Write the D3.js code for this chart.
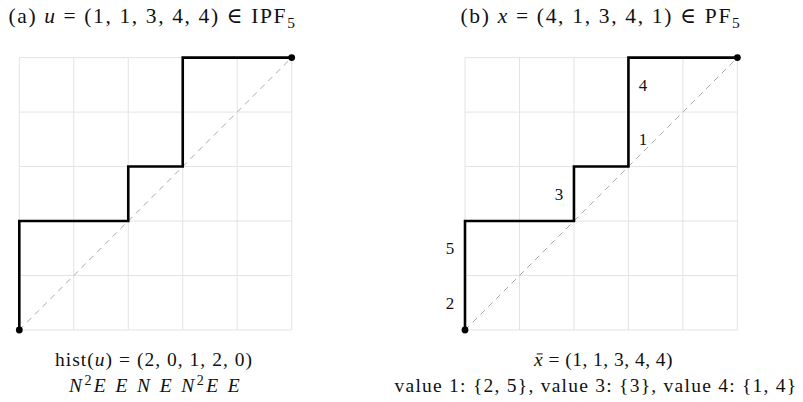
<!DOCTYPE html>
<html><head><meta charset="utf-8">
<script src="https://cdn.jsdelivr.net/npm/d3@7"></script>
<style>
html,body{margin:0;padding:0;background:#fff;}
svg text{font-family:"Liberation Serif","DejaVu Serif",serif;fill:#111;}
</style></head>
<body><svg id="c" width="803" height="402"></svg>
<script>
const n = 5;
const uValues = [1, 1, 3, 4, 4];      // increasing parking function (a)
const xValues = [4, 1, 3, 4, 1];      // parking function (b)
const panelNames = ["IPF", "PF"];
const panelLetters = ["(a)", "(b)"];
const varNames = ["u", "x"];

const svg = d3.select("#c");
const FS_T = 21.5, FS_B = 19.5, FS_L = 17;

function hist(vals){ return d3.range(1, n+1).map(c => vals.filter(v => v === c).length); }
function pathPoints(vals){
  const h = hist(vals); const pts = [[0,0]]; let x=0,y=0;
  h.forEach(k => { for(let i=0;i<k;i++){ y++; pts.push([x,y]); } x++; pts.push([x,y]); });
  return pts;
}
// spread a text so that its ink spans width w, centred on cx
function fit(sel, cx, w){
  const node = sel.node();
  sel.attr("text-anchor","start").attr("x", 0).attr("letter-spacing", 0);
  const chars = node.getNumberOfChars();
  let ls = 0;
  for(let it=0; it<3; it++){
    const bb = node.getBBox();
    ls += (w - bb.width) / Math.max(1, chars - 1);
    sel.attr("letter-spacing", ls);
  }
  const bb = node.getBBox();
  sel.attr("x", (cx - w/2) - bb.x);
}

function panel(g, vals, xr, withLabels){
  const xs = d3.scaleLinear().domain([0,n]).range(xr);
  const ys = d3.scaleLinear().domain([0,n]).range([330, 57.6]);
  const ticks = d3.range(0, n+1);
  g.append("g").selectAll("line").data(ticks).join("line")
    .attr("x1", d=>xs(d)).attr("x2", d=>xs(d)).attr("y1", ys(0)).attr("y2", ys(n))
    .attr("stroke", "#e3e3e3").attr("stroke-width", 1);
  g.append("g").selectAll("line").data(ticks).join("line")
    .attr("y1", d=>ys(d)).attr("y2", d=>ys(d)).attr("x1", xs(0)).attr("x2", xs(n))
    .attr("stroke", "#e3e3e3").attr("stroke-width", 1);
  g.append("line").attr("x1", xs(0)).attr("y1", ys(0)).attr("x2", xs(n)).attr("y2", ys(n))
    .attr("stroke", "#aaa").attr("stroke-width", 1).attr("stroke-dasharray", "6,5");
  const pts = pathPoints(vals);
  g.append("path").attr("d", d3.line().x(d=>xs(d[0])).y(d=>ys(d[1]))(pts))
    .attr("fill","none").attr("stroke","#000").attr("stroke-width",2.6).attr("stroke-linejoin","miter");
  g.selectAll("circle").data([[0,0],[n,n]]).join("circle")
    .attr("cx", d=>xs(d[0])).attr("cy", d=>ys(d[1])).attr("r", 3.4).attr("fill","#000");
  if(withLabels){
    const labs = []; let y = 0;
    for(let c=1;c<=n;c++){
      const cars = d3.range(1,n+1).filter(i => vals[i-1] === c);
      cars.forEach(car => { labs.push({car, col:c-1, row:y}); y++; });
    }
    g.selectAll("text.lab").data(labs).join("text").attr("class","lab")
      .attr("x", d => xs(d.col) + (d.col >= 3 ? 14.5 : -15))
      .attr("y", d => ys(d.row + 0.5) + 6)
      .attr("text-anchor","middle").attr("font-size", FS_L).text(d=>d.car);
  }
  return xs;
}

function title(g, cx, w, letter, v, vals, name){
  const t = g.append("text").attr("y", 23).attr("font-size", FS_T);
  t.append("tspan").text(letter + " ");
  t.append("tspan").attr("font-style","italic").text(v);
  t.append("tspan").text(" = (" + vals.join(", ") + ") ∈ " + name);
  t.append("tspan").attr("font-size", FS_T*0.72).attr("dy", 4.5).text(n);
  fit(t, cx, w);
}

const gA = svg.append("g"), gB = svg.append("g");
panel(gA, uValues, [19.3, 291.7], false);
panel(gB, xValues, [465, 737.4], true);
title(gA, 152.5, 288, panelLetters[0], varNames[0], uValues, panelNames[0]);
title(gB, 601, 281, panelLetters[1], varNames[1], xValues, panelNames[1]);

// bottom captions (a)
const h = hist(uValues);
const t1 = gA.append("text").attr("y", 366).attr("font-size", FS_B);
t1.append("tspan").text("hist(");
t1.append("tspan").attr("font-style","italic").text("u");
t1.append("tspan").text(") = (" + h.join(", ") + ")");
fit(t1, 154, 198);

const t2 = gA.append("text").attr("y", 392).attr("font-size", FS_B).attr("font-style","italic");
const tokens = [];
h.forEach(k => { if(k > 0) tokens.push({s:"N", k}); tokens.push({s:"E", k:1}); });
let pendingDy = 0;
tokens.forEach((tk, i) => {
  const last = i === tokens.length - 1;
  const ts = t2.append("tspan").text(tk.s + (tk.k > 1 || last ? "" : " "));
  if(pendingDy){ ts.attr("dy", pendingDy); pendingDy = 0; }
  if(tk.k > 1){
    t2.append("tspan").attr("font-size", FS_B*0.72).attr("dy", -7.5).attr("font-style","normal").text(tk.k);
    pendingDy = 7.5;
  }
});
fit(t2, 155, 174);

// bottom captions (b)
const sorted = xValues.slice().sort(d3.ascending);
const t3 = gB.append("text").attr("y", 366).attr("font-size", FS_B);
t3.append("tspan").attr("font-style","italic").text("x");
t3.append("tspan").text(" = (" + sorted.join(", ") + ")");
fit(t3, 603, 140);
{ // macron over x
  const e = t3.node().getExtentOfChar(0);
  gB.append("line").attr("x1", e.x + e.width*0.3).attr("x2", e.x + e.width*0.95)
    .attr("y1", 366 - FS_B*0.62).attr("y2", 366 - FS_B*0.62)
    .attr("stroke", "#111").attr("stroke-width", 1);
}
const groups = d3.groups(d3.range(1,n+1), i => xValues[i-1]).sort((a,b)=>a[0]-b[0]);
const t4 = gB.append("text").attr("y", 392).attr("font-size", FS_B)
  .text(groups.map(([v, cars]) => "value " + v + ": {" + cars.join(", ") + "}").join(", "));
fit(t4, 596, 403);
</script></body></html>
